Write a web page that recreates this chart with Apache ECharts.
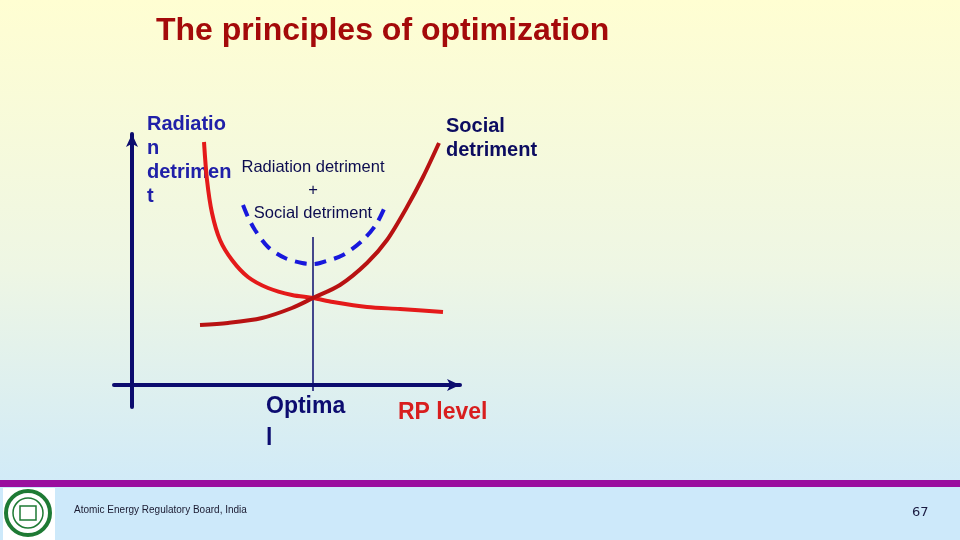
<!DOCTYPE html>
<html><head><meta charset="utf-8">
<script src="https://cdn.jsdelivr.net/npm/echarts@6/dist/echarts.min.js"></script>
<style>html,body{margin:0;padding:0;}#c{width:960px;height:540px;}</style>
</head><body><div id="c"></div>
<script>
// Schematic curves (abstract units: RP level vs detriment)
const radiationX = [7.2, 7.5, 8.0, 8.8, 10.0, 11.6, 13.6, 16.0, 18.1, 20.1, 23.5, 26.8, 31.1];
const radiationY = [24.3, 20.5, 17.2, 14.5, 12.5, 10.8, 9.7, 9.0, 8.7, 8.3, 7.8, 7.6, 7.3];
const socialX = [6.8, 9.6, 13.0, 16.0, 18.1, 20.8, 23.5, 25.5, 27.5, 29.1, 30.7];
const socialY = [6.0, 6.2, 6.7, 7.7, 8.7, 10.0, 12.2, 14.5, 17.8, 20.8, 24.2];
const totalX = [11.1, 11.6, 12.3, 13.6, 15.3, 17.0, 18.1, 18.8, 21.1, 23.1, 24.5, 25.5];
const totalY = [18.0, 16.8, 15.5, 13.8, 12.7, 12.2, 12.1, 12.2, 13.0, 14.5, 16.2, 18.3];
const optimumX = [18.1, 18.1];
const optimumY = [14.8, -0.6];

const zip = (a, b) => a.map((v, i) => [v, b[i]]);
const navy = '#0c0c6e';
const F = '"Liberation Sans", Arial, sans-serif';
const chart = echarts.init(document.getElementById('c'));
chart.setOption({
  animation: false,
  backgroundColor: {
    type: 'linear', x: 0, y: 0, x2: 0, y2: 1,
    colorStops: [{offset: 0, color: '#fffed2'}, {offset: 0.5, color: '#eef6e4'}, {offset: 0.88, color: '#d2ebf7'}, {offset: 1, color: '#cde9fa'}]
  },
  grid: {left: 114, right: 500, top: 134, bottom: 133},
  xAxis: {
    type: 'value', min: -1.8, max: 32.8,
    axisLine: {show: true, onZero: true, symbol: ['none', 'arrow'], symbolSize: [9, 13], lineStyle: {color: navy, width: 4}},
    axisTick: {show: false}, axisLabel: {show: false}, splitLine: {show: false}
  },
  yAxis: {
    type: 'value', min: -2.2, max: 25.1,
    axisLine: {show: true, onZero: true, symbol: ['none', 'arrow'], symbolSize: [9, 13], lineStyle: {color: navy, width: 4}},
    axisTick: {show: false}, axisLabel: {show: false}, splitLine: {show: false}
  },
  series: [
    {type: 'line', data: zip(optimumX, optimumY), showSymbol: false, lineStyle: {color: navy, width: 1.5}, z: 1},
    {type: 'line', data: zip(radiationX, radiationY), smooth: 0.3, showSymbol: false, lineStyle: {color: '#e41a1a', width: 4}},
    {type: 'line', data: zip(socialX, socialY), smooth: 0.3, showSymbol: false, lineStyle: {color: '#b81212', width: 4}},
    {type: 'line', data: zip(totalX, totalY), smooth: 0.3, showSymbol: false, lineStyle: {color: '#1818dc', width: 4, type: [12, 8]}}
  ],
  graphic: [
    {type: 'text', left: 156, top: 15, style: {text: 'The principles of optimization', font: 'bold 32px ' + F, fill: '#a40a0a'}},
    {type: 'text', left: 147, top: 112, style: {text: 'Radiatio\nn\ndetrimen\nt', font: 'bold 20px ' + F, fill: '#2020a8', lineHeight: 24}},
    {type: 'text', x: 313, y: 156, style: {text: 'Radiation detriment\n+\nSocial detriment', font: '16.5px ' + F, fill: '#0c0c50', lineHeight: 23, align: 'center'}},
    {type: 'text', left: 446, top: 114, style: {text: 'Social\ndetriment', font: 'bold 20px ' + F, fill: '#0c0c60', lineHeight: 24}},
    {type: 'text', left: 266, top: 391, style: {text: 'Optima\nl', font: 'bold 23px ' + F, fill: '#0c0c70', lineHeight: 32}},
    {type: 'text', left: 398, top: 401, style: {text: 'RP level', font: 'bold 23px ' + F, fill: '#d81e1e'}},
    {type: 'rect', shape: {x: 0, y: 480, width: 960, height: 7}, style: {fill: '#9a0e9e'}},
    {type: 'rect', shape: {x: 0, y: 487, width: 960, height: 53}, style: {fill: '#cde9fa'}},
    {type: 'rect', shape: {x: 3, y: 488, width: 52, height: 52}, style: {fill: '#ffffff'}},
    {type: 'circle', shape: {cx: 28, cy: 513, r: 22}, style: {fill: '#ffffff', stroke: '#1e7a34', lineWidth: 4}},
    {type: 'circle', shape: {cx: 28, cy: 513, r: 15}, style: {fill: 'none', stroke: '#1e7a34', lineWidth: 1.5}},
    {type: 'rect', shape: {x: 20, y: 506, width: 16, height: 14}, style: {fill: 'none', stroke: '#1e7a34', lineWidth: 1.5}},
    {type: 'text', left: 74, top: 505, style: {text: 'Atomic Energy Regulatory Board, India', font: '10px ' + F, fill: '#1a1a30'}},
    {type: 'text', left: 912, top: 506, style: {text: '67', font: '13px "DejaVu Sans", sans-serif', fill: '#1a1a40'}}
  ]
});
</script>
</body></html>
